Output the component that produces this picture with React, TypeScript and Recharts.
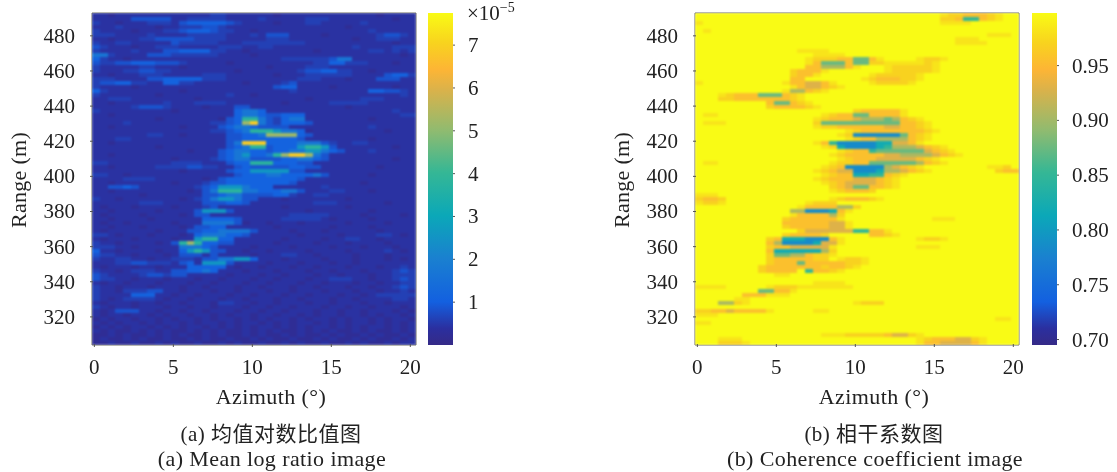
/**
 * Side by side change detection maps: mean log ratio and coherence coefficient
 */
import React from 'react';
import { Bar, BarChart, ReferenceArea, Scatter, ScatterChart, XAxis, YAxis } from 'recharts';

const azimuthTicks = [0, 5, 10, 15, 20];
const rangeTicks = [320, 340, 360, 380, 400, 420, 440, 460, 480];
const ratioTicks = [1, 2, 3, 4, 5, 6, 7];
const coherenceTicks = [0.7, 0.75, 0.8, 0.85, 0.9, 0.95];

// value of each digit used in the rows and streaks below
const ratioLevels = [0.22, 0.42, 0.6, 0.85, 1.1, 1.7, 2.6, 3.8, 5.2, 6.9];
const coherenceLevels = [0.998, 0.982, 0.97, 0.955, 0.93, 0.905, 0.875, 0.85, 0.82, 0.785];

// background, top row = far range, one digit per 0.5 degree of azimuth
const ratioRows = [
  '11011111111111122111111011111111111101111',
  '11111333331122222111121111122211111111011',
  '21101112221344444321111011122111112111111',
  '11121111011222332111111111111111011111111',
  '21111011122344432211011111111111111211111',
  '22211112111122222111213331111011111123321',
  '11011122333332222111112221111111101122211',
  '21122111113222221112222222211111111111011',
  '32111011222111112221122111111111121111222',
  '21111211133444422110111111110111111221212',
  '55211113332222221111011111111111111111101',
  '42110111111111111111111122222235511111111',
  '32233444333211111011111111112244222111011',
  '21111122111011111111110111122211111111111',
  '21112233221111111101111111233442211011111',
  '11011122211111222111111011122222211113442',
  '22211113344444222111111111222111011133311',
  '23344221144221111110111123111111111111111',
  '21111011111111111111111344111101111111011',
  '42111111111011111111111112111111111443321',
  '21111111011111111211011111111111111111121',
  '11222111111110111111111111101111112221111',
  '11011111121112222111111101111122222111111',
  '11111233321111011111111111111111011111111',
  '21111111110111111111111111111111111111211',
  '11011111111111111111011111111111111111122',
  '11111111011111110111111111011111111011111',
  '11112111111111122111111111111111111111111',
  '11011111111011111111101111111111111211111',
  '11111111111111122111111111101111111110111',
  '11111112211011111111111111111111111111111',
  '11122111111111111111111101111111111011111',
  '11011111111111111111111111111111122111111',
  '11111111011111111111011111111101111111011',
  '11111111111101111111111111111111111211111',
  '11011111111111111111111111101111111111111',
  '11111111110111122111111111111111111111011',
  '22111111112222111111111111111111111111111',
  '11011111222233221111011111111111111101111',
  '11111111111011111111111111111111111111111',
  '22110111111111111111111111111111111011111',
  '11112222111111011111111101111111111111111',
  '11011111110111111111111111111111110111111',
  '11111111111111111111111111111211111111111',
  '11011111111101111111111111111122111011111',
  '11111101111111111111111111112211111111111',
  '21101111111011111111111101111111011111111',
  '11111122211111222211111111112221111110111',
  '10111011110111111111111101111111011111111',
  '11011111011111111111111111101111111011111',
  '10111101111011111111111112222211110111101',
  '11011110111111111111111122222101111011111',
  '10110111110111111110110111011111011110111',
  '11011101111011111111111011111101111011111',
  '10111111011111111111111110111011111101111',
  '22101110111011111111111111011110111122101',
  '10111011110111111111111101111011221101111',
  '21101111011111111111111011110111011110111',
  '22211011111111111111011110111101110111011',
  '41101111011111111110110111101111011112101',
  '32211011101111111111011122110111101110111',
  '21122110112221111111011101111011101110101',
  '11122332221101111111110111011101101111111',
  '10111011011111111101101110110111011101121',
  '21101222111111111110111011101101110111232',
  '32111123322111111011101101110110111011222',
  '32211011101110110111011011101122211011232',
  '10110111011101101110110111011011101101122',
  '21101110111011011101101110110111011011232',
  '21102223311011101101110110111011101101121',
  '21111444110110111011011101101110110122222',
  '21012222101101110110111011011101101111221',
  '10111011011011102211011011101101110110111',
  '21011011101101101110110110111011011011101',
  '10133311011011011101101101110110110111010',
  '10110110101101101011011011010110110101101',
  '01011011010110101101010110101101011010110',
  '10101101011010110101101010110101011010101',
  '01010110101011010101011010101101010110101',
  '10100101010010101001010100101010010100101',
  '00101001010100101001010010100101001010010',
  '01001010010010100100101001001010010100101',
  '00100100101001001010010010100100101001011',
];

// streaks over the background: row, first column, digits
const ratioStreaks: [number, number, string][] = [
  [23, 18, '33'],
  [24, 18, '4554'],
  [25, 18, '45543'], [25, 23, '3444'],
  [26, 17, '34'], [26, 19, '77'], [26, 21, '53'], [26, 23, '2455'],
  [27, 17, '34'], [27, 19, '89'], [27, 21, '53'], [27, 23, '24443'],
  [28, 16, '34554'], [28, 21, '3333'],
  [29, 17, '345'], [29, 20, '7776'], [29, 24, '554'],
  [30, 17, '3344'], [30, 21, '5'], [30, 22, '8888'], [30, 26, '43'],
  [31, 17, '3344444443'],
  [32, 17, '35'], [32, 19, '999'], [32, 22, '44'], [32, 24, '4455532'],
  [33, 17, '345'], [33, 20, '77'], [33, 22, '3444'], [33, 26, '6776'], [33, 30, '3'],
  [34, 16, '3455'], [34, 20, '443'], [34, 23, '4'], [34, 24, '45566543'],
  [35, 16, '3456'], [35, 20, '44'], [35, 22, '5'], [35, 23, '78998'], [35, 28, '53'],
  [36, 16, '3455'], [36, 20, '3333'], [36, 24, '44554'], [36, 29, '3'],
  [37, 17, '34'], [37, 19, '4'], [37, 20, '777'], [37, 23, '444'], [37, 26, '33'],
  [38, 18, '3433'], [38, 22, '3334433'],
  [39, 17, '34'], [39, 19, '4'], [39, 20, '66666'], [39, 25, '33'],
  [40, 18, '34'], [40, 20, '445544'], [40, 26, '4453'],
  [41, 16, '344'], [41, 19, '4444444'], [41, 26, '3'],
  [42, 14, '2334444'], [42, 21, '44443'],
  [43, 2, '3343'], [43, 13, '234'], [43, 16, '6665'], [43, 20, '444'],
  [44, 14, '3'], [44, 15, '5777'], [44, 19, '55'], [44, 21, '444'], [44, 24, '55'], [44, 26, '3'],
  [45, 14, '3345'], [45, 18, '5'], [45, 19, '333'], [45, 22, '344'], [45, 25, '2'],
  [46, 13, '23'], [46, 15, '5665'], [46, 19, '33'],
  [47, 14, '33344'], [47, 19, '3'],
  [48, 14, '23'],
  [49, 13, '3'], [49, 14, '666'], [49, 17, '3'],
  [50, 13, '33'],
  [51, 14, '4444'], [51, 18, '3'],
  [52, 14, '5555'], [52, 18, '3'],
  [53, 13, '3344'],
  [54, 12, '3344'], [54, 16, '5555'], [54, 20, '3'],
  [55, 13, '4555'], [55, 17, '44'], [55, 19, '3'],
  [56, 13, '677'], [56, 16, '44'],
  [57, 10, '3'], [57, 11, '787'], [57, 14, '4433'],
  [58, 11, '5554'], [58, 15, '3'],
  [59, 11, '4'], [59, 12, '676'], [59, 15, '33'],
  [60, 11, '33'], [60, 13, '3'], [60, 15, '3'],
  [61, 14, '33'], [61, 16, '5566'], [61, 20, '4'],
  [62, 11, '34'], [62, 14, '666'], [62, 17, '3'],
  [63, 12, '44444'],
  [64, 10, '334454'],
  [65, 10, '33'],
];

const coherenceRows = [
  '00000000000000000000000000000000000000000',
  '00000000000000000000000000000000000000000',
  '10000000000000000000000000000000000000000',
  '00000000000000000000000000000000000000000',
  '01000000000000000000000000000000000000000',
  '00000000000000000000000000000000000001110',
  '00000000000000000000000000000000011100000',
  '00000000000000000000000000000000011110000',
  '00000000000000000000000000000000000000000',
  '00000000000001111000000000000000000000000',
  '00000000000000011110000000000000000000000',
  '00000000000000000000000000000000000000000',
  '00000000000000000000000000000000000000000',
  '00000000000000000000000000000000000000000',
  '00000000000000000000000000000000000000000',
  '00000000000000000000000000000000000000000',
  '00000000000000000000000000000000000000000',
  '10000000000000000000000000000000000000000',
  '00000000000000000000000000000000000000000',
  '00000000000000000000000000000000000000000',
  '00000000000000000000000000000000000000000',
  '00000000000000000000000000000000000000000',
  '00000000000000000000000000000000000000000',
  '00000000000000000000000000000000000000000',
  '00000000000000000000000000000000000000000',
  '01100000000000000000000000000000000000000',
  '00000000000000000000000000000000000000000',
  '01110000000000000000000000000000000000000',
  '00000000000000000000000000000000000000000',
  '00000000000000000000000000000000000000000',
  '00000000000000000000000000000000000000000',
  '00000000000000000000000000000000000000000',
  '00000000000000000000000000000000000000000',
  '00000000000000000000000000000000000000000',
  '00000000000000000000000000000000000000000',
  '00000000000000000000000000000000000000000',
  '00000000000000000000000000000000000000000',
  '01100000000000000000000000000000000000000',
  '00000000000000000000000000000000000001120',
  '00000000000000000000000000000000000000233',
  '00000000000000000000000000000000000000000',
  '00000000000000000000000000000000000000000',
  '00000000000000000000000000000000000000000',
  '00000000000000000000000000000000000000000',
  '00000000000000000000000000000000000000000',
  '11100000000000000000000000000000000000000',
  '23320000000000000000000000000000000000000',
  '12210000000000000000000000000000000000000',
  '00000000000000000000000000000000000000000',
  '00000000000000000000000000000000000000000',
  '00000000000000000000000000000000000000000',
  '00000000000000000000000000000011100000000',
  '00000000000000000000000000000000000000000',
  '00000000000000000000000000000000000000000',
  '00000000000000000000000000000000000000000',
  '00000000000000000000000000000000000000000',
  '00000000000000000000000000001221000000000',
  '00000000000000000000000000000000000000000',
  '00000000000000000000000000001110000000000',
  '00000000000000000000000000000000000000000',
  '00000000000000000000000000000000000000000',
  '00000000000000000000000000000000000000000',
  '00000000000000000000000000000000000000000',
  '00000000000000000000000000000000000000000',
  '00000000000000000000000000000000000000000',
  '00000000001100000000000000000000000000000',
  '00000000000000000000000000000000000000000',
  '00000000000000011110000000000000000000000',
  '11110000012221111111000000000000000000000',
  '00000000000000000000000000000000000000000',
  '00000000000000000000000000000000000000000',
  '00000000000000000000000000000000000000000',
  '00000000000000000000000000000000000000000',
  '00000000000000000000000000000000000000000',
  '00000000000000011000000000000000000000000',
  '11100000000000000000000000000000000000000',
  '00000000000000000000000000000000000000110',
  '11000000000000000000000000000000000000000',
  '00000000000000000000000000000000000000000',
  '00000000000000000000000000000000000000000',
  '00000000000000000000000000000000000000000',
  '00000000000000000000000000000000000000000',
  '00000000000000000000000000000000000000000',
];

const coherenceStreaks: [number, number, string][] = [
  [0, 31, '1223'], [0, 35, '3321'],
  [1, 31, '22'], [1, 33, '3'], [1, 34, '77'], [1, 36, '321'],
  [2, 31, '1111'],
  [11, 14, '122233'], [11, 20, '66'], [11, 22, '31'], [11, 28, '1221'],
  [12, 14, '13'], [12, 16, '666'], [12, 19, '3'], [12, 20, '66'], [12, 22, '22'], [12, 24, '1111'], [12, 28, '121'],
  [13, 14, '33'], [13, 16, '555'], [13, 19, '31'], [13, 24, '1222221'],
  [14, 12, '2333'], [14, 16, '1'], [14, 24, '1222221'],
  [15, 12, '233'], [15, 15, '1'], [15, 22, '1222221'],
  [16, 12, '33'], [16, 21, '12333221'],
  [17, 11, '13344'], [17, 16, '31'], [17, 22, '122221'],
  [18, 12, '13443'], [18, 17, '21'],
  [19, 11, '1'], [19, 12, '55'], [19, 14, '3'], [19, 15, '21'],
  [20, 3, '12333'], [20, 8, '666'], [20, 11, '3'], [20, 12, '21'],
  [21, 3, '223333333'], [21, 12, '21'],
  [22, 9, '3'], [22, 10, '66'], [22, 12, '32'], [22, 14, '1'],
  [23, 9, '2'], [23, 10, '3333'], [23, 14, '21'],
  [24, 20, '2333331'],
  [25, 16, '1233'], [25, 20, '66'], [25, 22, '33331'],
  [26, 15, '123'], [26, 18, '33455565'], [26, 26, '321'],
  [27, 15, '23'], [27, 16, '6666666666'], [27, 26, '3321'],
  [28, 15, '12233333344'], [28, 26, '3321'],
  [29, 19, '1233333'], [29, 26, '33321'],
  [30, 18, '12'], [30, 20, '999999'], [30, 26, '6'], [30, 27, '321'],
  [31, 19, '1233'], [31, 23, '5555'], [31, 27, '321'],
  [32, 15, '13'], [32, 17, '7'], [32, 18, '99999'], [32, 23, '88'], [32, 25, '4431'],
  [33, 16, '123'], [33, 18, '899998'], [33, 24, '7'], [33, 25, '55543'], [33, 30, '21'],
  [34, 18, '1233'], [34, 22, '7'], [34, 23, '666666'], [34, 29, '4321'],
  [35, 17, '1233333'], [35, 24, '4455554'], [35, 31, '321'],
  [36, 18, '12333'], [36, 23, '44444'], [36, 28, '321'],
  [37, 17, '12233'], [37, 22, '666666'], [37, 28, '5'], [37, 29, '321'],
  [38, 16, '123'], [38, 19, '99999'], [38, 24, '5'], [38, 25, '4321'],
  [39, 15, '123'], [39, 18, '44'], [39, 20, '9998'], [39, 24, '5543'], [39, 28, '21'],
  [40, 16, '1233'], [40, 20, '8877'], [40, 24, '321'],
  [41, 15, '12333444'], [41, 23, '321'],
  [42, 16, '1234444'], [42, 23, '321'],
  [43, 17, '23'], [43, 19, '4'], [43, 20, '66'], [43, 22, '3321'],
  [44, 17, '123332'],
  [46, 17, '1233321'],
  [47, 14, '1222'],
  [48, 13, '1333'], [48, 17, '3'], [48, 18, '55'], [48, 20, '2'],
  [49, 12, '55'], [49, 14, '999'], [49, 17, '8'], [49, 18, '3'], [49, 19, '1'],
  [50, 12, '1'], [50, 13, '3333'], [50, 17, '5'], [50, 18, '2'],
  [51, 11, '2333333'], [51, 18, '1'],
  [52, 11, '333333'], [52, 17, '44'], [52, 19, '1'],
  [53, 11, '2333'], [53, 15, '33'], [53, 17, '44'], [53, 19, '1'],
  [54, 13, '2444444'], [54, 20, '77'], [54, 22, '33'], [54, 24, '1'],
  [55, 11, '23333'], [55, 16, '2'], [55, 22, '3321'],
  [56, 9, '23'], [56, 11, '888999'], [56, 17, '3'], [56, 18, '1'],
  [57, 9, '35'], [57, 11, '99998'], [57, 16, '44'], [57, 18, '1'],
  [58, 9, '2334'], [58, 13, '44'], [58, 15, '44'], [58, 17, '1'],
  [59, 9, '3'], [59, 10, '888888'], [59, 16, '5'], [59, 17, '2'],
  [60, 9, '2'], [60, 10, '6655'], [60, 14, '32'], [60, 16, '21'],
  [61, 9, '233333'], [61, 15, '22'], [61, 18, '1221'],
  [62, 9, '2333'], [62, 13, '6'], [62, 14, '3333'], [62, 18, '3221'],
  [63, 8, '233333'], [63, 14, '33'], [63, 16, '2'], [63, 17, '3321'],
  [64, 8, '2333'], [64, 12, '3'], [64, 14, '7'], [64, 15, '3321'],
  [69, 8, '66'], [69, 10, '33'], [69, 12, '1'],
  [70, 6, '3'], [70, 7, '33'], [70, 9, '111'],
  [71, 5, '11'],
  [72, 3, '55'], [72, 5, '21'], [72, 20, '1222'],
  [74, 0, '22'], [74, 2, '3343333'], [74, 9, '1'],
  [80, 16, '111222223'], [80, 25, '44'], [80, 27, '21'],
  [81, 3, '111'], [81, 28, '1233344'], [81, 35, '21'],
  [82, 3, '2221'], [82, 28, '13344443'], [82, 36, '1'],
];

// colour bar: position 0..1, colour
const rampStops: [number, string][] = [
  [0, '#352a87'],
  [0.05, '#2b2f9f'],
  [0.13, '#1360e0'],
  [0.26, '#1a80d0'],
  [0.39, '#0ba8b8'],
  [0.52, '#35b795'],
  [0.645, '#8fbb70'],
  [0.77, '#dbb24a'],
  [0.83, '#fdb535'],
  [0.91, '#f8d31e'],
  [1, '#f9fb15'],
];

const AZ_MIN = -0.15;
const AZ_MAX = 20.36;
const RANGE_MIN = 304;
const RANGE_MAX = 493;
const CELL_W = 8.4;
const CELL_H = 4.4;
const FONT = '"Liberation Serif", serif';

const hex = (s: string, i: number) => parseInt(s.slice(i, i + 2), 16);

const rampColor = (t: number) => {
  const v = Math.max(0, Math.min(1, t));
  for (let i = 1; i < rampStops.length; i++) {
    const [p0, c0] = rampStops[i - 1];
    const [p1, c1] = rampStops[i];
    if (v <= p1) {
      const k = (v - p0) / (p1 - p0);
      const mix = (j: number) => Math.round(hex(c0, j) + (hex(c1, j) - hex(c0, j)) * k);
      return `rgb(${mix(1)},${mix(3)},${mix(5)})`;
    }
  }
  return rampStops[rampStops.length - 1][1];
};

const buildCells = (rows: string[], streaks: [number, number, string][], levels: number[]) => {
  const grid = rows.map((row) => row.split(''));
  streaks.forEach(([r, c, digits]) => {
    digits.split('').forEach((d, i) => {
      if (c + i < 41) grid[r][c + i] = d;
    });
  });
  const cells: { az: number; range: number; value: number }[] = [];
  const rowStep = (RANGE_MAX - RANGE_MIN) / rows.length;
  grid.forEach((row, r) => {
    row.slice(0, 41).forEach((ch, c) => {
      cells.push({
        az: AZ_MIN + (c + 0.5) * 0.5,
        range: RANGE_MAX - (r + 0.5) * rowStep,
        value: levels[Number(ch)],
      });
    });
  });
  return cells;
};

const BottomTick = ({ x, y, payload }: any) => (
  <g>
    <line x1={x} x2={x} y1={y} y2={y - 3} stroke="#555" />
    <text x={x} y={y + 20} textAnchor="middle" dominantBaseline="central" fontSize={21} fontFamily={FONT} fill="#222">
      {payload.value}
    </text>
  </g>
);

const LeftTick = ({ x, y, payload }: any) => (
  <g>
    <line x1={x} x2={x + 3} y1={y} y2={y} stroke="#555" />
    <text x={x - 15} y={y} textAnchor="end" dominantBaseline="central" fontSize={21} fontFamily={FONT} fill="#222">
      {payload.value}
    </text>
  </g>
);

const TopTick = ({ x, y }: any) => <line x1={x} x2={x} y1={y} y2={y + 3} stroke="#555" />;
const RightTick = ({ x, y }: any) => <line x1={x} x2={x - 3} y1={y} y2={y} stroke="#555" />;

interface HeatPanelProps {
  left: number;
  rows: string[];
  streaks: [number, number, string][];
  levels: number[];
  low: number;
  high: number;
}

const HeatPanel: React.FC<HeatPanelProps> = ({ left, rows, streaks, levels, low, high }) => {
  const cells = buildCells(rows, streaks, levels);
  const HeatCell = (props: any) => (
    <rect
      x={props.cx - CELL_W / 2}
      y={props.cy - CELL_H / 2}
      width={CELL_W}
      height={CELL_H}
      shapeRendering="crispEdges"
      fill={rampColor((props.payload.value - low) / (high - low))}
    />
  );
  return (
    <div style={{ position: 'absolute', left, top: 0 }}>
      <ScatterChart width={440} height={400} margin={{ top: 13, right: 24, bottom: 0, left: 0 }}>
        <Scatter data={cells} dataKey="value" shape={HeatCell} isAnimationActive={false} />
        <XAxis
          type="number"
          dataKey="az"
          domain={[AZ_MIN, AZ_MAX]}
          ticks={azimuthTicks}
          allowDataOverflow
          height={55}
          tickSize={0}
          tickLine={false}
          axisLine={false}
          tick={<BottomTick />}
          interval={0}
        />
        <XAxis
          xAxisId="top"
          orientation="top"
          type="number"
          domain={[AZ_MIN, AZ_MAX]}
          ticks={azimuthTicks}
          allowDataOverflow
          height={0}
          tickSize={0}
          tickLine={false}
          axisLine={false}
          tick={<TopTick />}
          interval={0}
        />
        <YAxis
          type="number"
          dataKey="range"
          domain={[RANGE_MIN, RANGE_MAX]}
          ticks={rangeTicks}
          allowDataOverflow
          width={92}
          tickSize={0}
          tickLine={false}
          axisLine={false}
          tick={<LeftTick />}
          interval={0}
        />
        <YAxis
          yAxisId="right"
          orientation="right"
          type="number"
          domain={[RANGE_MIN, RANGE_MAX]}
          ticks={rangeTicks}
          allowDataOverflow
          width={0}
          tickSize={0}
          tickLine={false}
          axisLine={false}
          tick={<RightTick />}
          interval={0}
        />
        <ReferenceArea
          x1={AZ_MIN}
          x2={AZ_MAX}
          y1={RANGE_MIN}
          y2={RANGE_MAX}
          fill="none"
          stroke="#6e6e64"
          strokeWidth={1}
          ifOverflow="visible"
        />
      </ScatterChart>
    </div>
  );
};

interface ColorBarProps {
  left: number;
  id: string;
  low: number;
  high: number;
  ticks: number[];
  digits: number;
}

const ColorBar: React.FC<ColorBarProps> = ({ left, id, low, high, ticks, digits }) => {
  const CbarTick = ({ x, y, payload }: any) => (
    <g>
      <line x1={x} x2={x - 2} y1={y} y2={y} stroke="#555" />
      <text x={x + 13} y={y} dominantBaseline="central" fontSize={21} fontFamily={FONT} fill="#222">
        {payload.value.toFixed(digits)}
      </text>
    </g>
  );
  return (
    <div style={{ position: 'absolute', left, top: 0 }}>
      <BarChart
        width={95}
        height={400}
        data={[{ name: 'bar', span: [low, high] }]}
        margin={{ top: 13, right: 0, bottom: 55, left: 0 }}
        barCategoryGap={0}
      >
        <defs>
          <linearGradient id={id} x1="0" y1="1" x2="0" y2="0">
            {rampStops.map(([p, c]) => (
              <stop key={p} offset={p} stopColor={c} />
            ))}
          </linearGradient>
        </defs>
        <XAxis dataKey="name" hide />
        <YAxis
          orientation="right"
          type="number"
          domain={[low, high]}
          ticks={ticks}
          allowDataOverflow
          width={70}
          tickSize={0}
          tickLine={false}
          axisLine={false}
          tick={<CbarTick />}
          interval={0}
        />
        <Bar dataKey="span" fill={`url(#${id})`} isAnimationActive={false} />
      </BarChart>
    </div>
  );
};

const centered = (x: number, y: number, text: string, size = 22, spacing = 0.4) => (
  <div
    style={{
      position: 'absolute',
      left: x,
      top: y,
      transform: 'translate(-50%, -50%)',
      whiteSpace: 'nowrap',
      fontSize: size,
      letterSpacing: spacing,
      color: '#222',
      fontFamily: `${FONT}, "Noto Sans CJK SC"`,
    }}
  >
    {text}
  </div>
);

const rotated = (x: number, y: number, text: string) => (
  <div
    style={{
      position: 'absolute',
      left: x,
      top: y,
      transform: 'translate(-50%, -50%) rotate(-90deg)',
      whiteSpace: 'nowrap',
      fontSize: 22,
      letterSpacing: 0.3,
      color: '#222',
      fontFamily: FONT,
    }}
  >
    {text}
  </div>
);

const App: React.FC = () => (
  <div
    style={{
      position: 'absolute',
      left: 0,
      top: 0,
      width: 1117,
      height: 472,
      overflow: 'hidden',
      background: '#fff',
      filter: 'blur(0.35px)',
    }}
  >
    <style>{'.recharts-scatter { filter: blur(0.8px); }'}</style>

    <HeatPanel left={0} rows={ratioRows} streaks={ratioStreaks} levels={ratioLevels} low={0} high={7.75} />
    <ColorBar left={428} id="ratioRamp" low={0} high={7.75} ticks={ratioTicks} digits={0} />
    <div
      style={{ position: 'absolute', left: 467, top: 1, fontSize: 21, color: '#222', fontFamily: FONT, whiteSpace: 'nowrap' }}
    >
      ×10<sup style={{ fontSize: 14, verticalAlign: 'baseline', position: 'relative', top: -8 }}>−5</sup>
    </div>
    {centered(271, 397, 'Azimuth (°)')}
    {rotated(19, 180, 'Range (m)')}
    {centered(271, 432, '(a) 均值对数比值图', 21, 0.5)}
    {centered(272, 459, '(a) Mean log ratio image')}

    <HeatPanel left={603} rows={coherenceRows} streaks={coherenceStreaks} levels={coherenceLevels} low={0.695} high={0.998} />
    <ColorBar left={1032} id="coherenceRamp" low={0.695} high={0.998} ticks={coherenceTicks} digits={2} />
    {centered(874, 397, 'Azimuth (°)')}
    {rotated(622, 180, 'Range (m)')}
    {centered(874, 432, '(b) 相干系数图', 21, 0.5)}
    {centered(875, 459, '(b) Coherence coefficient image')}
  </div>
);

export default App;
